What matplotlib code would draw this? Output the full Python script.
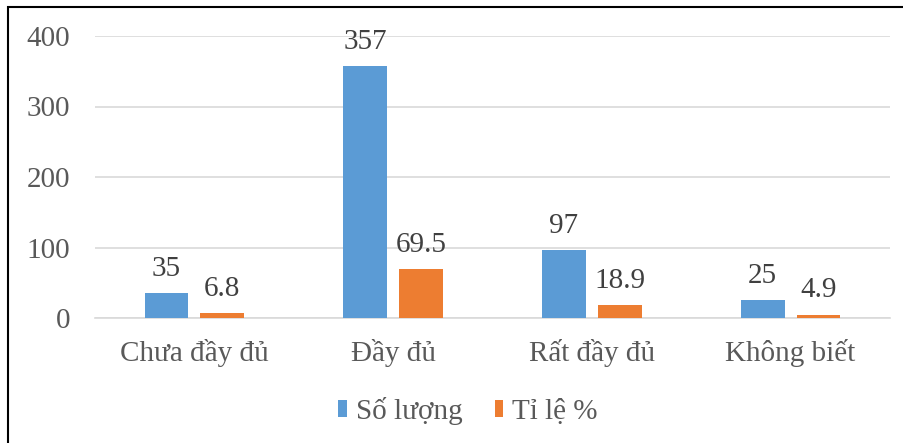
import matplotlib
matplotlib.use("Agg")
import matplotlib.pyplot as plt
import numpy as np
from matplotlib.patches import Rectangle

categories = ["Chưa đầy đủ", "Đầy đủ", "Rất đầy đủ", "Không biết"]
so_luong = [35, 357, 97, 25]
ti_le = [6.8, 69.5, 18.9, 4.9]
series_names = ["Số lượng", "Tỉ lệ %"]
yticks = [0, 100, 200, 300, 400]

plt.rcParams['font.family'] = ['Liberation Serif', 'DejaVu Serif']
txt = '#595959'
FS = 21

fig = plt.figure(figsize=(9.04, 4.43), dpi=100)
W, H = 904, 443
ax = fig.add_axes([95 / W, 1 - 318 / H, 795 / W, (318 - 36) / H])

x = np.arange(len(categories))
bw = 0.22
off = 0.14
b1 = ax.bar(x - off, so_luong, bw, color='#5b9bd5', label=series_names[0], zorder=3)
b2 = ax.bar(x + off, ti_le, bw, color='#ed7d31', label=series_names[1], zorder=3)

for bars, vals in ((b1, so_luong), (b2, ti_le)):
    for r, v in zip(bars, vals):
        ax.annotate(f"{v:g}", (r.get_x() + r.get_width() / 2, r.get_height()),
                    xytext=(0, 8), textcoords='offset points', ha='center', va='bottom',
                    fontsize=FS, color='#404040')

ax.set_xlim(-0.5, 3.5)
ax.set_ylim(0, 400)
ax.set_yticks(yticks)
ax.set_yticklabels([str(t) for t in yticks])
ax.set_xticks(x)
ax.set_xticklabels(categories)
ax.tick_params(axis='both', length=0, labelsize=FS, labelcolor=txt)
ax.tick_params(axis='x', pad=15)
ax.tick_params(axis='y', pad=18)
ax.grid(axis='y', color='#d9d9d9', lw=1.2, zorder=0)
for s in ['top', 'right', 'left']:
    ax.spines[s].set_visible(False)
ax.spines['bottom'].set_color('#d9d9d9')
ax.spines['bottom'].set_linewidth(1.2)

fig.legend(handles=[b1, b2], labels=series_names, loc='center', bbox_to_anchor=(468 / W, 1 - 411 / H),
           ncol=2, frameon=False, fontsize=FS, labelcolor=txt, handlelength=0.3, handleheight=0.55,
           handletextpad=0.3, columnspacing=1.1)

fig.patches.append(Rectangle((8 / W, -0.1), 1.2, 1 - 7 / H + 0.1, transform=fig.transFigure,
                             fill=False, edgecolor='black', lw=1.5))

fig.savefig('out.png', dpi=100)
